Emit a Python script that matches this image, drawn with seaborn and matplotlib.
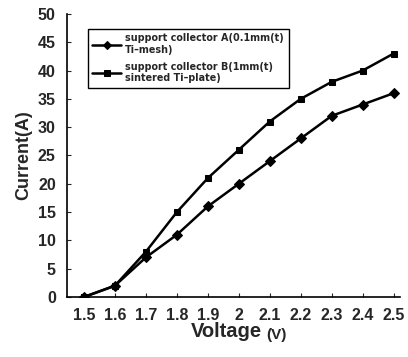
import matplotlib
matplotlib.use("Agg")
import matplotlib.pyplot as plt
import seaborn as sns
import pandas as pd

voltage = [1.5, 1.6, 1.7, 1.8, 1.9, 2.0, 2.1, 2.2, 2.3, 2.4, 2.5]
current_a = [0, 2, 7, 11, 16, 20, 24, 28, 32, 34, 36]
current_b = [0, 2, 8, 15, 21, 26, 31, 35, 38, 40, 43]
label_a = "support collector A(0.1mm(t)\nTi\u2013mesh)"
label_b = "support collector B(1mm(t)\nsintered Ti\u2013plate)"
xticklabels = ["1.5", "1.6", "1.7", "1.8", "1.9", "2", "2.1", "2.2", "2.3", "2.4", "2.5"]
yticks = [0, 5, 10, 15, 20, 25, 30, 35, 40, 45, 50]

sns.set_theme(style="ticks")
plt.rcParams['font.family'] = ['Liberation Sans', 'DejaVu Sans']

df = pd.DataFrame({
    "Voltage": voltage * 2,
    "Current": current_a + current_b,
    "Series": [label_a] * len(voltage) + [label_b] * len(voltage),
})

fig = plt.figure(figsize=(4.08, 3.57), dpi=100)
ax = fig.add_axes([0.164, 0.168, 0.816, 0.793])

sns.lineplot(data=df, x="Voltage", y="Current", hue="Series", style="Series",
             markers={label_a: "D", label_b: "s"}, dashes=False,
             palette={label_a: "black", label_b: "black"},
             markersize=5, linewidth=1.8, ax=ax, markeredgecolor="black")

ax.set_xlim(1.445, 2.52)
ax.set_ylim(0, 50)
ax.set_xticks(voltage)
ax.set_xticklabels(xticklabels)
ax.set_yticks(yticks)
ax.tick_params(axis="both", direction="in", length=3, width=0.8, labelsize=11.5, pad=8)
for lab in ax.get_xticklabels() + ax.get_yticklabels():
    lab.set_fontweight("bold")
ax.set_xlabel("")
ax.set_ylabel("Current(A)", fontsize=13, fontweight="bold", labelpad=4)
sns.despine(ax=ax)
for s in ["left", "bottom"]:
    ax.spines[s].set_linewidth(1.2)
    ax.spines[s].set_color("black")

fig.text(0.468, 0.045, "Voltage", fontsize=14.5, fontweight="bold", ha="left", va="bottom")
fig.text(0.652, 0.042, "(V)", fontsize=11, fontweight="bold", ha="left", va="bottom")

leg = ax.legend(loc="upper left", bbox_to_anchor=(0.048, 0.965),
                frameon=True, fancybox=False, edgecolor="black", framealpha=1,
                handlelength=3.0, handletextpad=0.4, labelspacing=0.7, borderpad=0.5,
                prop={"family": "DejaVu Sans", "weight": "bold", "size": 6.9})
leg.get_frame().set_linewidth(1.0)
for line in leg.get_lines():
    line.set_markersize(4.5)

fig.savefig("out.png", dpi=100)
